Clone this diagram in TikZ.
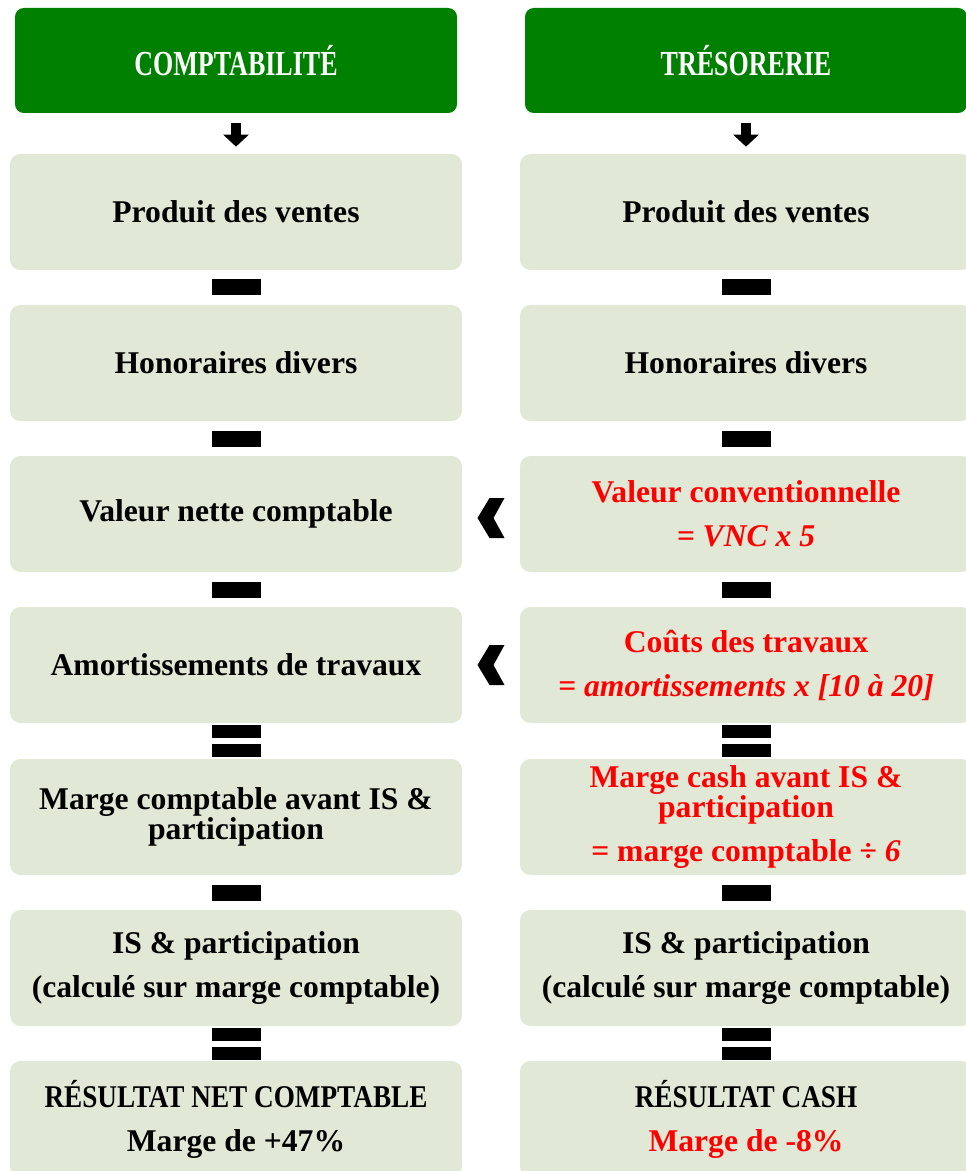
\documentclass[tikz,border=0pt]{standalone}
\usepackage{fontspec}
\setmainfont{Liberation Serif}
\usetikzlibrary{arrows.meta,calc}
\definecolor{headfill}{HTML}{008000}
\definecolor{cellfill}{HTML}{E1E8D5}
\definecolor{alert}{HTML}{FF0000}
\newcommand{\cellfont}{\fontsize{18}{17}\selectfont\bfseries}
\newcommand{\headfont}{\fontsize{20}{22}\selectfont\bfseries\addfontfeature{FakeStretch=0.74}}
\newcommand{\narrow}{\addfontfeature{FakeStretch=0.86}}
\tikzset{
 every node/.append style={align=center},
 head/.style={fill=headfill,rounded corners=5pt,minimum width=88.4mm,minimum height=21mm,font=\headfont,text=white},
 cell/.style={fill=cellfill,rounded corners=6pt,minimum width=90.4mm,minimum height=23.2mm,font=\cellfont,inner sep=0pt},
 hot/.style={text=alert},
 bar/.style={fill=black,minimum width=9.8mm,minimum height=3.2mm,inner sep=0pt},
 eqbar/.style={fill=black,minimum width=9.8mm,minimum height=2.6mm,inner sep=0pt},
 down/.style={-{Triangle[length=2.4mm,width=5mm]},draw=black,line width=2mm,shorten <=2mm,shorten >=1.4mm},
}
% minus sign between two boxes
\newcommand{\minusbar}[3]{\node[bar] (#1) at ($(#2.south)!.5!(#3.north)$) {};}
% equals sign between two boxes
\newcommand{\equalbar}[3]{
 \node[eqbar] (#1t) at ($(#2.south)!.5!(#3.north)+(0,.19)$) {};
 \node[eqbar] (#1b) at ($(#2.south)!.5!(#3.north)-(0,.19)$) {};
}
% "less than" chevron between the columns
\newcommand{\lessmark}[2]{
 \coordinate (#1) at ($(#2)$);
 \fill (#1) +(-.03,.4) -- +(.27,.4) -- +(.05,0) -- +(.27,-.4) -- +(-.03,-.4) -- +(-.27,0) -- cycle;
}

\begin{document}
\begin{tikzpicture}

\useasboundingbox (0,0) rectangle (19.3,-23.42);
% headers
\node[head] (h1) at (4.72,-1.21) {COMPTABILITÉ};
\node[head] (h2) at (14.92,-1.21) {TRÉSORERIE};
% left column
\node[cell] (a1) at (4.72,-4.24) {Produit des ventes};
\node[cell] (a2) at (4.72,-7.26) {Honoraires divers};
\node[cell] (a3) at (4.72,-10.28) {Valeur nette comptable};
\node[cell] (a4) at (4.72,-13.30) {Amortissements de travaux};
\node[cell] (a5) at (4.72,-16.34) {Marge comptable avant IS \&\\participation};
\node[cell] (a6) at (4.72,-19.36) {IS \& participation\\[8pt](calculé sur marge comptable)};
\node[cell] (a7) at (4.72,-22.38) {{\narrow RÉSULTAT NET COMPTABLE}\\[8pt]Marge de +47\%};
% right column
\node[cell] (b1) at (14.92,-4.24) {Produit des ventes};
\node[cell] (b2) at (14.92,-7.26) {Honoraires divers};
\node[cell,hot] (b3) at (14.92,-10.28) {Valeur conventionnelle\\[8pt]\textit{= VNC x 5}};
\node[cell,hot] (b4) at (14.92,-13.30) {Coûts des travaux\\[8pt]\textit{= amortissements x [10 à 20]}};
\node[cell,hot] (b5) at (14.92,-16.34) {Marge cash avant IS \&\\participation\\[8pt]= marge comptable ÷ \textit{6}};
\node[cell] (b6) at (14.92,-19.36) {IS \& participation\\[8pt](calculé sur marge comptable)};
\node[cell] (b7) at (14.92,-22.38) {{\narrow RÉSULTAT CASH}\\[8pt]\textcolor{alert}{Marge de -8\%}};
% arrows under headers
\draw[down] (h1) -- (a1);
\draw[down] (h2) -- (b1);
% operators
\minusbar{ma1}{a1}{a2} \minusbar{ma2}{a2}{a3} \minusbar{ma3}{a3}{a4}
\equalbar{ea4}{a4}{a5}
\minusbar{ma5}{a5}{a6}
\equalbar{ea6}{a6}{a7}
\minusbar{mb1}{b1}{b2} \minusbar{mb2}{b2}{b3} \minusbar{mb3}{b3}{b4}
\equalbar{eb4}{b4}{b5}
\minusbar{mb5}{b5}{b6}
\equalbar{eb6}{b6}{b7}
% comparison marks
\lessmark{lt3}{$(a3.east)!.5!(b3.west)+(0,-.08)$}
\lessmark{lt4}{$(a4.east)!.5!(b4.west)$}

\end{tikzpicture}
\end{document}
